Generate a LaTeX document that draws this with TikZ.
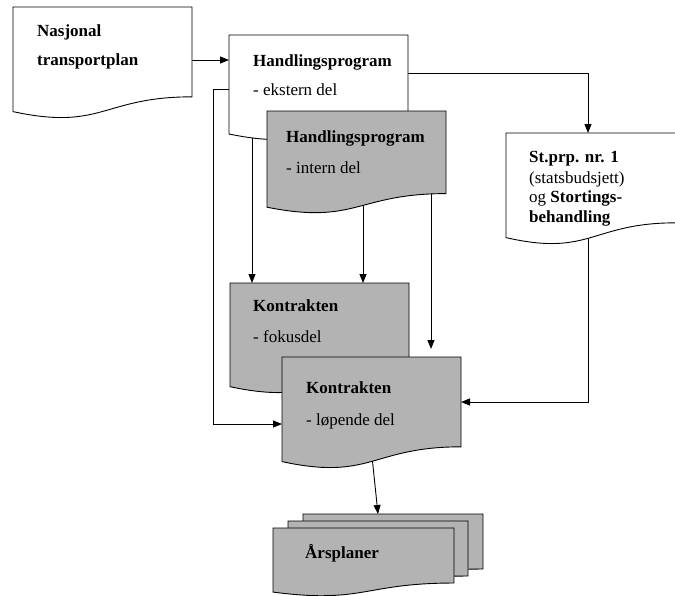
\documentclass[tikz,border=0pt]{standalone}
\usepackage{fontspec}
\setmainfont{Liberation Serif}
\usetikzlibrary{arrows.meta}
\pgfdeclarelayer{bg}
\pgfsetlayers{bg,main}
\definecolor{boxgray}{RGB}{179,179,179}
\newcommand{\docbox}[6]{%
  \path[draw=black, line width=0.9pt, fill=#6] (#2,#3) -- ++(#4,0) -- ++(0,{0.802*#5})
    .. controls ({#2+0.5*#4},{#3+0.802*#5}) and ({#2+0.5*#4},{#3+1.107*#5}) .. (#2,{#3+0.934*#5}) -- cycle;
  \node[inner sep=0pt, outer sep=0pt, minimum width=#4, minimum height={0.802*#5}, anchor=north west] (#1) at (#2,#3) {};
}
\tikzset{
  txt/.style={font=\fontsize{17}{20}\selectfont, inner sep=0pt, anchor=base west},
  conn/.style={line width=0.9pt, -{Triangle[length=9pt,width=7pt]}},
  plain/.style={line width=0.9pt}
}
\begin{document}
\begin{tikzpicture}[x=1pt,y=-1pt]
\useasboundingbox (0,0) rectangle (675,595);
% boxes
\docbox{nas}{13}{7}{179}{112}{white}
\docbox{eks}{229}{35}{179}{106}{white}
\docbox{int}{267}{111}{179}{103}{boxgray}
\docbox{stp}{506}{133}{170}{112}{white}
\docbox{fok}{230}{283}{179}{111}{boxgray}
\docbox{lop}{282}{357}{179}{112}{boxgray}
\docbox{ars3}{303}{514}{180}{68.6}{boxgray}
\docbox{ars2}{288}{521}{180}{68.6}{boxgray}
\docbox{ars1}{273}{528}{181}{68.6}{boxgray}
% texts
\node[txt] (nasA) at (37,36) {\textbf{Nasjonal}};
\node[txt] (nasB) at (37,65) {\textbf{transportplan}};
\node[txt] (eksA) at (253,66) {\textbf{Handlingsprogram}};
\node[txt] (eksB) at (253,95) {- ekstern del};
\node[txt] (intA) at (286,142) {\textbf{Handlingsprogram}};
\node[txt] (intB) at (286,173) {- intern del};
\node[txt] (stpA) at (529,162) {\textbf{St.prp. nr. 1}};
\node[txt] (stpB) at (529,183) {(statsbudsjett)};
\node[txt] (stpC) at (529,202) {og \textbf{Stortings-}};
\node[txt] (stpD) at (529,222) {\textbf{behandling}};
\node[txt] (fokA) at (253,311) {\textbf{Kontrakten}};
\node[txt] (fokB) at (253,342) {- fokusdel};
\node[txt] (lopA) at (306,393) {\textbf{Kontrakten}};
\node[txt] (lopB) at (306,425) {- løpende del};
\node[txt] (arsA) at (305,558) {\textbf{Årsplaner}};
% connectors
\begin{pgfonlayer}{bg}
\draw[conn] (nas.east |- 0,60) -- (eks.west |- 0,60);
\draw[conn] (eks.east |- 0,73) -| (588,0 |- stp.north);
\draw[conn] (eks.west |- 0,89) -- ++(-16,0) |- (lop.west |- 0,424);
\draw[conn] (252,0 |- eks.south) -- (252,0 |- fok.north);
\draw[conn] (363,0 |- int.south) -- (363,0 |- fok.north);
\draw[conn, shorten >=8pt] (431,0 |- int.south) -- (431,0 |- lop.north);
\draw[conn] (588,0 |- stp.south) |- (lop.east |- 0,402);
\draw[conn] (371,0 |- lop.south) -- (378,0 |- ars3.north);
\end{pgfonlayer}
\end{tikzpicture}
\end{document}
